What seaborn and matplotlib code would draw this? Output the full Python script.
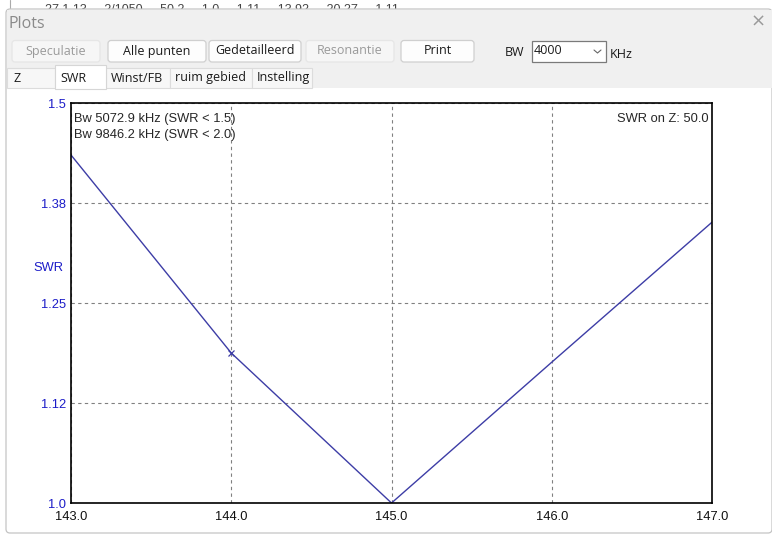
import matplotlib
matplotlib.use("Agg")
import matplotlib.pyplot as plt
from matplotlib.patches import Rectangle, FancyBboxPatch
from matplotlib.transforms import Affine2D
import seaborn as sns
import pandas as pd

# SWR sweep
freq_mhz = [143.0, 144.0, 145.0, 146.0, 147.0]
swr = [1.435, 1.1875, 1.0, 1.176, 1.351]
marked_index = [1]

y_ticks = [1.0, 1.125, 1.25, 1.375, 1.5]
y_tick_labels = ["1.0", "1.12", "1.25", "1.38", "1.5"]
x_ticks = [143.0, 144.0, 145.0, 146.0, 147.0]
x_tick_labels = ["143.0", "144.0", "145.0", "146.0", "147.0"]

bw_lines = ["Bw 5072.9 kHz (SWR < 1.5)", "Bw 9846.2 kHz (SWR < 2.0)"]
z_note = "SWR on Z: 50.0"

buttons = [("Speculatie", 12, 100, False), ("Alle punten", 108, 206, True),
           ("Gedetailleerd", 209, 301, True), ("Resonantie", 306, 394, False),
           ("Print", 401, 474, True)]
tabs = [("Z", 7, 55), ("SWR", 55, 106), ("Winst/FB", 106, 170),
        ("ruim gebied", 170, 252), ("Instelling", 252, 312)]

sns.set_theme(style="white")
plt.rcParams["font.family"] = ["Liberation Sans", "DejaVu Sans"]
UI_FONT = ["Open Sans", "DejaVu Sans"]
PLOT_FS = 9.3

W, H = 772, 535
fig = plt.figure(figsize=(W / 100, H / 100), dpi=100, facecolor="white")
# pixel coordinates measured from the top-left corner
P = Affine2D().scale(1 / W, -1 / H).translate(0, 1) + fig.transFigure


def rect(x0, y0, x1, y1, fc, ec="none", lw=1.0, z=1, rounded=0):
    if rounded:
        p = FancyBboxPatch((x0, y0), x1 - x0, y1 - y0,
                           boxstyle=f"round,pad=0,rounding_size={rounded}",
                           fc=fc, ec=ec, lw=lw, transform=P, zorder=z)
    else:
        p = Rectangle((x0, y0), x1 - x0, y1 - y0, fc=fc, ec=ec, lw=lw,
                      transform=P, zorder=z)
    fig.add_artist(p)
    return p


def text(x, y, s, size=9, color="black", ha="left", va="center", z=5, family=None):
    kw = {}
    if family:
        kw["family"] = family
    return fig.text(x, y, s, transform=P, fontsize=size, color=color, ha=ha,
                    va=va, zorder=z, **kw)


# window lying behind, only its bottom edge peeks out
text(45, 10, "27,1 13     2/1050     50,2     1,0     1,11     13,92     20,27     1,11",
     size=9, color="#444444", z=0)
fig.add_artist(plt.Line2D([10 / W, 10 / W], [1, 1 - 9 / H], color="#aaaaaa", lw=0.8, zorder=0))

# dialog frame
rect(6, 9, 772, 533, "#ffffff", ec="#c4c4c4", lw=0.9, z=1, rounded=4)
rect(6.5, 9.5, 771.5, 88, "#f0f0f0", z=1.5)
text(9, 24, "Plots", size=11.5, color="#8a8a8a", family=UI_FONT)
text(758, 22, "\u00d7", size=13, color="#9a9a9a", ha="center",
     family=["DejaVu Sans"])

# buttons
for label, x0, x1, enabled in buttons:
    if enabled:
        rect(x0, 40.5, x1, 62, "#fdfdfd", ec="#cfcfcf", lw=0.9, z=2, rounded=3)
        col = "#1a1a1a"
    else:
        rect(x0, 40.5, x1, 62, "#f6f6f6", ec="#e6e6e6", lw=0.9, z=2, rounded=3)
        col = "#9a9a9a"
    text((x0 + x1) / 2, 51, label, size=9, color=col, ha="center", family=UI_FONT)

text(505, 52, "BW", size=9, color="#1a1a1a", family=UI_FONT)
rect(532, 40.5, 606, 62, "#ffffff", ec="#7a7a7a", lw=0.9, z=2)
text(534, 50, "4000", size=9, color="#1a1a1a", family=UI_FONT)
fig.add_artist(plt.Line2D([594 / W, 597.5 / W, 601 / W],
                          [1 - 50 / H, 1 - 53 / H, 1 - 50 / H],
                          color="#666666", lw=0.8, zorder=3))
text(610, 55, "KHz", size=9, color="#1a1a1a", family=UI_FONT)

# tabs
for label, x0, x1 in tabs:
    if label == "SWR":
        rect(x0, 65, x1, 89, "#ffffff", ec="#d6d6d6", lw=0.8, z=2.5)
    else:
        rect(x0, 68, x1, 88, "#f7f7f7", ec="#dcdcdc", lw=0.8, z=2)
    text(x0 + 5 if label != "Z" else 14, 78, label, size=9, color="#1a1a1a",
         family=UI_FONT, z=6)

# plot area
ax = fig.add_axes([71 / W, 1 - 503 / H, 641 / W, 400 / H])
ax.set_zorder(4)
df = pd.DataFrame({"freq": freq_mhz, "swr": swr})
sns.lineplot(data=df, x="freq", y="swr", ax=ax, color="#3d3da6", lw=1.0,
             marker="x", markevery=marked_index, markersize=5,
             markeredgewidth=0.9, markeredgecolor="#3d3da6")

ax.set_xlim(143.0, 147.0)
ax.set_ylim(1.0, 1.5)
ax.set_xticks(x_ticks, x_tick_labels)
ax.set_yticks(y_ticks, y_tick_labels)
ax.tick_params(axis="both", length=0, labelsize=PLOT_FS)
ax.tick_params(axis="x", pad=6.0, colors="#111111")
ax.tick_params(axis="y", pad=3.5, labelcolor="#1c1cc8")
ax.grid(True, color="#808080", ls=(0, (3, 3)), lw=0.8)
for s in ax.spines.values():
    s.set_color("black")
    s.set_linewidth(1.2)
ax.set_xlabel("")
ax.set_ylabel("SWR", rotation=0, color="#1c1cc8", fontsize=PLOT_FS, ha="center", va="center")
ax.yaxis.set_label_coords(-0.036, 0.5875)

ax.text(0.005, 0.96, bw_lines[0], transform=ax.transAxes, fontsize=PLOT_FS, va="center")
ax.text(0.005, 0.92, bw_lines[1], transform=ax.transAxes, fontsize=PLOT_FS, va="center")
ax.text(0.994, 0.96, z_note, transform=ax.transAxes, fontsize=PLOT_FS, va="center", ha="right")

fig.savefig("out.png", dpi=100, facecolor="white")
